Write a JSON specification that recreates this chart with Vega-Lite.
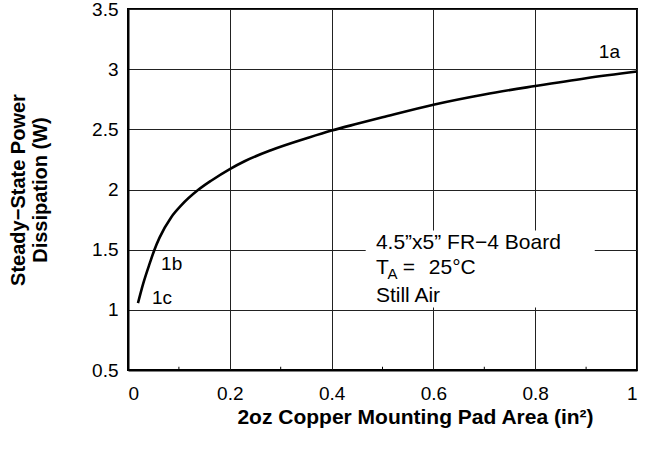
{
  "$schema": "https://vega.github.io/schema/vega-lite/v6.json",
  "width": 509,
  "height": 361,
  "autosize": {"type": "none"},
  "padding": {"left": 128, "top": 9, "right": 8, "bottom": 85},
  "background": "white",
  "config": {
    "font": "Liberation Sans",
    "view": {"stroke": "black", "strokeWidth": 2},
    "axis": {
      "domainColor": "black",
      "domainWidth": 2,
      "gridColor": "#222222",
      "gridWidth": 1,
      "gridOpacity": 1,
      "labelColor": "black",
      "labelFont": "Liberation Sans",
      "labelFontSize": 19,
      "titleColor": "black",
      "titleFont": "Liberation Sans",
      "titleFontSize": 20,
      "titleFontWeight": "bold",
      "tickSize": 0
    }
  },
  "datasets": {
    "curve": [
      {"area": 0.0196, "power": 1.056},
      {"area": 0.03, "power": 1.22},
      {"area": 0.043, "power": 1.39},
      {"area": 0.052, "power": 1.5},
      {"area": 0.062, "power": 1.6},
      {"area": 0.085, "power": 1.77},
      {"area": 0.105, "power": 1.87},
      {"area": 0.1375, "power": 1.995},
      {"area": 0.164, "power": 2.075},
      {"area": 0.2, "power": 2.17},
      {"area": 0.229, "power": 2.235},
      {"area": 0.282, "power": 2.328},
      {"area": 0.354, "power": 2.43},
      {"area": 0.4, "power": 2.49},
      {"area": 0.452, "power": 2.548},
      {"area": 0.5, "power": 2.6},
      {"area": 0.6, "power": 2.705},
      {"area": 0.7, "power": 2.79},
      {"area": 0.8, "power": 2.86},
      {"area": 0.9, "power": 2.925},
      {"area": 1.0, "power": 2.98}
    ],
    "minor": [{"x": 0.1}, {"x": 0.3}, {"x": 0.5}, {"x": 0.7}, {"x": 0.9}],
    "box": [{"x1": 0.467, "x2": 0.917, "y1": 1.02, "y2": 1.66}],
    "labels": [
      {"x": 0.925, "y": 3.09, "t": "1a"},
      {"x": 0.065, "y": 1.333, "t": "1b"},
      {"x": 0.047, "y": 1.05, "t": "1c"}
    ],
    "boxtext": [
      {"x": 0.487, "y": 1.508, "t": "4.5”x5” FR−4 Board"},
      {"x": 0.487, "y": 1.3, "t": "T"},
      {"x": 0.54, "y": 1.3, "t": "="},
      {"x": 0.591, "y": 1.3, "t": "25°C"},
      {"x": 0.487, "y": 1.067, "t": "Still Air"}
    ],
    "subs": [{"x": 0.51, "y": 1.255, "t": "A"}]
  },
  "layer": [
    {
      "data": {"name": "box"},
      "mark": {"type": "rect", "fill": "white", "stroke": null},
      "encoding": {
        "x": {
          "field": "x1", "type": "quantitative",
          "scale": {"domain": [0, 1], "nice": false, "zero": false},
          "axis": {
            "values": [0, 0.2, 0.4, 0.6, 0.8, 1],
            "labelExpr": "datum.value == 0 ? '0' : datum.value == 1 ? '1' : format(datum.value, '.1f')",
            "labelPadding": 14,
            "grid": true,
            "title": "2oz Copper Mounting Pad Area (in²)",
            "titleFontSize": 21,
            "titlePadding": 3,
            "titleX": 287,
            "titleAlign": "center"
          }
        },
        "x2": {"field": "x2"},
        "y": {
          "field": "y1", "type": "quantitative",
          "scale": {"domain": [0.5, 3.5], "nice": false, "zero": false},
          "axis": {
            "values": [0.5, 1, 1.5, 2, 2.5, 3, 3.5],
            "format": "~g",
            "labelPadding": 10,
            "grid": true,
            "title": ["Steady−State Power", "Dissipation (W)"],
            "titleLineHeight": 22,
            "titleX": -120,
            "titleBaseline": "top"
          }
        },
        "y2": {"field": "y2"}
      }
    },
    {
      "data": {"name": "minor"},
      "mark": {"type": "rule", "color": "black", "strokeWidth": 1},
      "encoding": {
        "x": {"field": "x", "type": "quantitative"},
        "y": {"datum": 0.5, "type": "quantitative"},
        "y2": {"datum": 0.527}
      }
    },
    {
      "data": {"name": "curve"},
      "mark": {"type": "line", "color": "black", "strokeWidth": 2.6, "interpolate": "monotone"},
      "encoding": {
        "x": {"field": "area", "type": "quantitative"},
        "y": {"field": "power", "type": "quantitative"}
      }
    },
    {
      "data": {"name": "labels"},
      "mark": {"type": "text", "align": "left", "baseline": "alphabetic", "fontSize": 19, "color": "black", "font": "Liberation Sans"},
      "encoding": {
        "x": {"field": "x", "type": "quantitative"},
        "y": {"field": "y", "type": "quantitative"},
        "text": {"field": "t"}
      }
    },
    {
      "data": {"name": "boxtext"},
      "mark": {"type": "text", "align": "left", "baseline": "alphabetic", "fontSize": 21, "color": "black", "font": "Liberation Sans"},
      "encoding": {
        "x": {"field": "x", "type": "quantitative"},
        "y": {"field": "y", "type": "quantitative"},
        "text": {"field": "t"}
      }
    },
    {
      "data": {"name": "subs"},
      "mark": {"type": "text", "align": "left", "baseline": "alphabetic", "fontSize": 15, "color": "black", "font": "Liberation Sans"},
      "encoding": {
        "x": {"field": "x", "type": "quantitative"},
        "y": {"field": "y", "type": "quantitative"},
        "text": {"field": "t"}
      }
    }
  ]
}
